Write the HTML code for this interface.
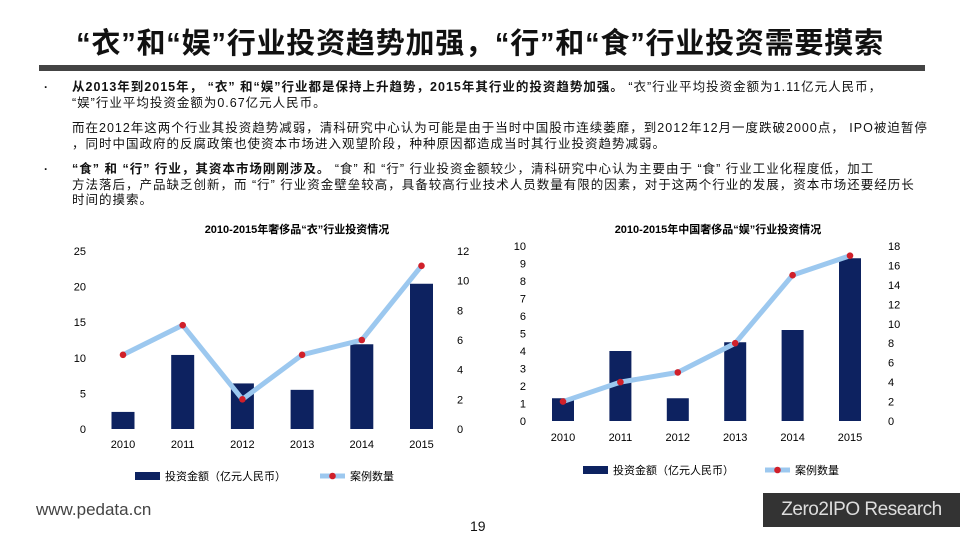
<!DOCTYPE html>
<html><head><meta charset="utf-8">
<style>
body{margin:0;width:960px;height:540px;background:#fff;position:relative;overflow:hidden;font-family:"Liberation Sans","Noto Sans CJK SC",sans-serif;color:#111}
.title{position:absolute;left:40px;top:24px;width:880px;text-align:center;font-size:29px;font-weight:bold;letter-spacing:0.8px;line-height:40px}
.rule{position:absolute;left:39px;top:65px;width:886px;height:6px;background:#444}
.p{position:absolute;left:72px;width:880px;font-size:12.5px;letter-spacing:1px;line-height:15.5px;white-space:nowrap}
.bul{position:absolute;left:44px;font-size:12px;font-weight:bold}
.foot{position:absolute;left:36px;top:500px;font-size:17px;color:#444}
.pg{position:absolute;left:470px;top:518px;font-size:14px}
.brand{position:absolute;left:763px;top:493px;width:197px;height:34px;background:#333;color:#ddd;font-size:19px;line-height:34px;text-align:center;letter-spacing:-0.5px}
svg{position:absolute;left:0;top:0}
</style></head><body>
<div class="title">“衣”和“娱”行业投资趋势加强，“行”和“食”行业投资需要摸索</div>
<div class="rule"></div>
<div class="bul" style="top:80px">·</div>
<div class="p" style="top:80px"><b>从2013年到2015年， “衣” 和“娱”行业都是保持上升趋势，2015年其行业的投资趋势加强。</b> “衣”行业平均投资金额为1.11亿元人民币，<br>“娱”行业平均投资金额为0.67亿元人民币。</div>
<div class="p" style="top:121px">而在2012年这两个行业其投资趋势减弱，清科研究中心认为可能是由于当时中国股市连续萎靡，到2012年12月一度跌破2000点， IPO被迫暂停<br>，同时中国政府的反腐政策也使资本市场进入观望阶段，种种原因都造成当时其行业投资趋势减弱。</div>
<div class="bul" style="top:162px">·</div>
<div class="p" style="top:162px"><b> “食” 和 “行” 行业，其资本市场刚刚涉及。</b> “食” 和 “行” 行业投资金额较少，清科研究中心认为主要由于 “食” 行业工业化程度低，加工<br>方法落后，产品缺乏创新，而 “行” 行业资金壁垒较高，具备较高行业技术人员数量有限的因素，对于这两个行业的发展，资本市场还要经历长<br>时间的摸索。</div>
<svg id="c" width="960" height="540"></svg>
<div class="foot">www.pedata.cn</div>
<div class="pg">19</div>
<div class="brand">Zero2IPO Research</div>
<script>
const years=["2010","2011","2012","2013","2014","2015"];
const amtYi=[2.4,10.4,6.4,5.5,11.9,20.4];
const cntYi=[5,7,2,5,6,11];
const amtYu=[1.3,4.0,1.3,4.5,5.2,9.3];
const cntYu=[2,4,5,8,15,17];
const ticksYiL=[0,5,10,15,20,25], ticksYiR=[0,2,4,6,8,10,12];
const ticksYuL=[0,1,2,3,4,5,6,7,8,9,10], ticksYuR=[0,2,4,6,8,10,12,14,16,18];
const svg=document.getElementById('c');const NS="http://www.w3.org/2000/svg";
function mk(t,a,txt){const e=document.createElementNS(NS,t);for(const k in a)e.setAttribute(k,a[k]);if(txt!=null)e.textContent=txt;svg.appendChild(e);return e;}
function chart(cfg){
 const {x0,dx,y0,yTop,lMax,rMax,amt,cnt,tl,tr,lx,rx,bw,title,tx,ty,yl,lg}=cfg;
 const yL=v=>y0-(y0-yTop)*v/lMax, yR=v=>y0-(y0-yTop)*v/rMax, xs=i=>x0+i*dx;
 let t=mk('text',{x:tx,y:ty,'text-anchor':'middle','font-size':11,'font-weight':'bold'},title);
 
 tl.forEach(v=>{const e=mk('text',{x:lx,y:yL(v)+4,'text-anchor':'end','font-size':11},v);});
 tr.forEach(v=>{const e=mk('text',{x:rx,y:yR(v)+4,'font-size':11},v);});
 years.forEach((y,i)=>{const e=mk('text',{x:xs(i),y:yl,'text-anchor':'middle','font-size':11},y);});
 amt.forEach((v,i)=>{const e=mk('rect',{x:xs(i)-bw/2,y:yL(v),width:bw,height:y0-yL(v),fill:'#0d2260'});});
 const pl=mk('polyline',{points:cnt.map((v,i)=>xs(i)+','+yR(v)).join(' '),fill:'none',stroke:'#9cc8ef','stroke-width':5,'stroke-linejoin':'round'});
 
 cnt.forEach((v,i)=>{const e=mk('circle',{cx:xs(i),cy:yR(v),r:3.3,fill:'#d0202a'});});
 const [bx,ly,lx2]=lg;
 let r=mk('rect',{x:bx,y:ly-4,width:25,height:8,fill:'#0d2260'});
 let a=mk('text',{x:bx+30,y:ly+4,'font-size':11},'投资金额（亿元人民币）');
 let l=mk('line',{x1:lx2,y1:ly,x2:lx2+25,y2:ly,stroke:'#9cc8ef','stroke-width':5});
 let c=mk('circle',{cx:lx2+12.5,cy:ly,r:3.3,fill:'#d0202a'});
 let b=mk('text',{x:lx2+30,y:ly+4,'font-size':11},'案例数量');
}
chart({id:'yi',x0:123,dx:59.7,y0:429,yTop:251,lMax:25,rMax:12,amt:amtYi,cnt:cntYi,tl:ticksYiL,tr:ticksYiR,lx:86,rx:457,bw:23,title:'2010-2015年奢侈品“衣”行业投资情况',tx:297,ty:233,yl:448,lg:[135,476,320]});
chart({id:'yu',x0:563,dx:57.4,y0:421,yTop:246,lMax:10,rMax:18,amt:amtYu,cnt:cntYu,tl:ticksYuL,tr:ticksYuR,lx:526,rx:888,bw:22,title:'2010-2015年中国奢侈品“娱”行业投资情况',tx:718,ty:233,yl:441,lg:[583,470,765]});
</script>
</body></html>
